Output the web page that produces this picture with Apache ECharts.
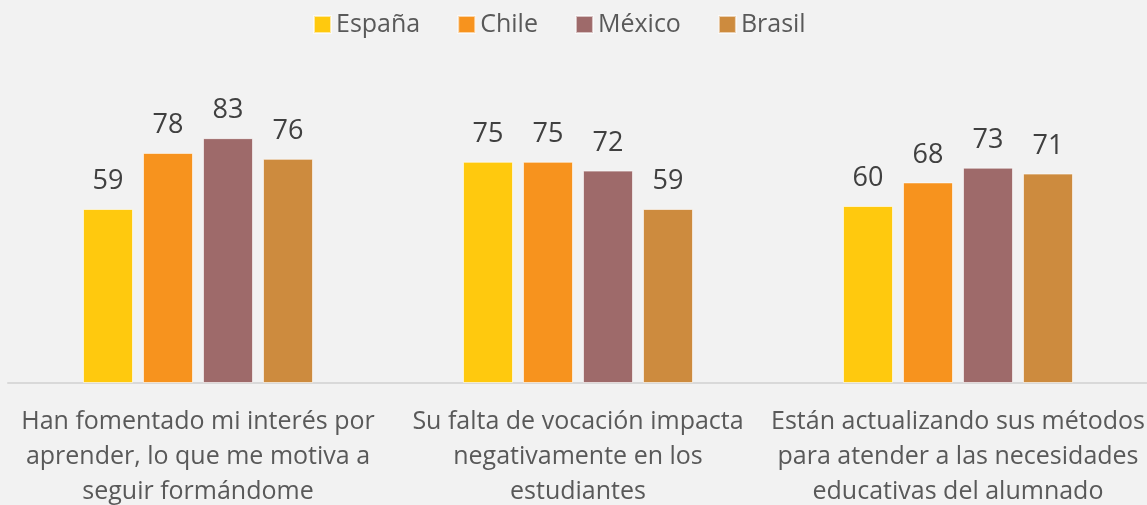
<!DOCTYPE html>
<html>
<head>
<meta charset="utf-8">
<script src="https://cdn.jsdelivr.net/npm/echarts@6/dist/echarts.min.js"></script>
<style>
    html, body { margin: 0; padding: 0; background: #f2f2f2; }
    #main { width: 1147px; height: 505px; }
</style>
</head>
<body>
<div id="main"></div>
<script>
// categorías del eje y valores por país
const categorias = [
    'Han fomentado mi interés por\naprender, lo que me motiva a\nseguir formándome',
    'Su falta de vocación impacta\nnegativamente en los\nestudiantes',
    'Están actualizando sus métodos\npara atender a las necesidades\neducativas del alumnado'
];
const paises = ['España', 'Chile', 'México', 'Brasil'];
const espana = [59, 75, 60];
const chile = [78, 75, 68];
const mexico = [83, 72, 73];
const brasil = [76, 59, 71];
const colores = ['#ffc90e', '#f7931e', '#9e6a6a', '#cd8b3e'];

const fuente = '"Open Sans", "Noto Sans", sans-serif';
const valores = [espana, chile, mexico, brasil];

let chart = echarts.init(document.getElementById('main'));
let option = {
    backgroundColor: '#f2f2f2',
    color: colores,
    legend: {
        top: 7,
        left: 308,
        itemWidth: 17,
        itemHeight: 17,
        itemGap: 37,
        icon: 'rect',
        textStyle: { fontFamily: fuente, fontSize: 25, color: '#595959' },
        data: paises
    },
    grid: { left: 8, right: -1, top: 88, bottom: 122, outerBoundsMode: 'none' },
    xAxis: {
        type: 'category',
        data: categorias,
        axisTick: { show: false },
        axisLine: { lineStyle: { color: '#d9d9d9', width: 2 } },
        axisLabel: {
            interval: 0,
            margin: 21,
            lineHeight: 35,
            fontFamily: fuente,
            fontSize: 25,
            color: '#595959'
        }
    },
    yAxis: {
        type: 'value',
        min: 0,
        max: 100,
        show: false,
        splitLine: { show: false }
    },
    series: paises.map((p, i) => ({
        name: p,
        type: 'bar',
        data: valores[i],
        barWidth: 50,
        barGap: '20%',
        itemStyle: { borderColor: 'rgba(255,255,255,0.6)', borderWidth: 1 },
        label: {
            show: true,
            position: 'top',
            distance: 14,
            fontFamily: fuente,
            fontSize: 27,
            color: '#404040'
        }
    }))
};
chart.setOption(option);
</script>
</body>
</html>
